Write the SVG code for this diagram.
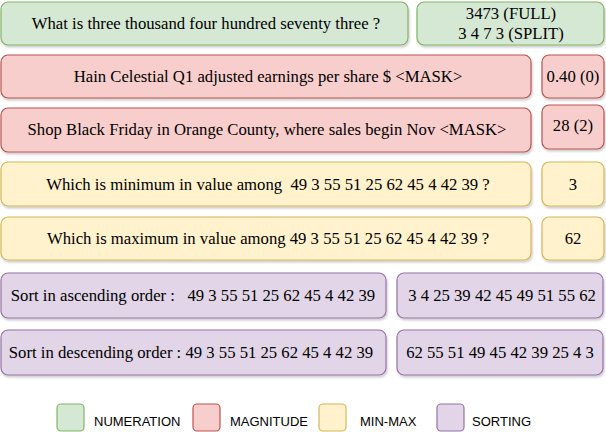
<svg xmlns="http://www.w3.org/2000/svg" width="606" height="432" viewBox="0 0 606 432">
<defs>
<filter id="sh" x="-5%" y="-10%" width="110%" height="130%">
<feDropShadow dx="1" dy="2" stdDeviation="1" flood-color="#000" flood-opacity="0.2"/>
</filter>
<style>
rect{stroke-width:1.2}
.g rect{fill:#d5e8d4;stroke:#82b366}
.r rect{fill:#f8cecc;stroke:#b85450}
.y rect{fill:#fff2cc;stroke:#d6b656}
.p rect{fill:#e1d5e7;stroke:#9673a6}
.n rect{filter:url(#sh)}
.t{font-family:"Liberation Serif","Times New Roman",serif;font-size:16.7px;fill:#000;text-anchor:middle;white-space:pre}
.l{font-family:"Liberation Sans",Arial,sans-serif;font-size:13px;fill:#000}
</style>
</defs>
<g id="q1" class="g n"><rect x="1" y="2" width="407" height="43" rx="7"/><text class="t" x="206" y="29">What is three thousand four hundred seventy three ?</text></g>
<g id="a1" class="g n"><rect x="417" y="2" width="187" height="43" rx="7"/><text class="t" x="511" y="19">3473 (FULL)</text><text class="t" x="511" y="39">3 4 7 3 (SPLIT)</text></g>
<g id="q2" class="r n"><rect x="1" y="55" width="530" height="43" rx="7"/><text class="t" x="268" y="82">Hain Celestial Q1 adjusted earnings per share $ &lt;MASK&gt;</text></g>
<g id="a2" class="r n"><rect x="542" y="55" width="62" height="43" rx="7"/><text class="t" x="573" y="82">0.40 (0)</text></g>
<g id="q3" class="r n"><rect x="1" y="108" width="530" height="44" rx="7"/><text class="t" x="267" y="135">Shop Black Friday in Orange County, where sales begin Nov &lt;MASK&gt;</text></g>
<g id="a3" class="r n"><rect x="542" y="105" width="62" height="44" rx="7"/><text class="t" x="573" y="131">28 (2)</text></g>
<g id="q4" class="y n"><rect x="1" y="162" width="530" height="44" rx="7"/><text class="t" x="268" y="190">Which is minimum in value among  49 3 55 51 25 62 45 4 42 39 ?</text></g>
<g id="a4" class="y n"><rect x="542" y="162" width="62" height="44" rx="7"/><text class="t" x="573" y="190">3</text></g>
<g id="q5" class="y n"><rect x="1" y="217" width="530" height="43" rx="7"/><text class="t" x="268" y="244">Which is maximum in value among 49 3 55 51 25 62 45 4 42 39 ?</text></g>
<g id="a5" class="y n"><rect x="542" y="217" width="62" height="43" rx="7"/><text class="t" x="573" y="244">62</text></g>
<g id="q6" class="p n"><rect x="1" y="273" width="385" height="45" rx="7"/><text class="t" x="193" y="301">Sort in ascending order :   49 3 55 51 25 62 45 4 42 39</text></g>
<g id="a6" class="p n"><rect x="397" y="273" width="206" height="45" rx="7"/><text class="t" x="502" y="301">3 4 25 39 42 45 49 51 55 62</text></g>
<g id="q7" class="p n"><rect x="1" y="330" width="385" height="45" rx="7"/><text class="t" x="191" y="358">Sort in descending order : 49 3 55 51 25 62 45 4 42 39</text></g>
<g id="a7" class="p n"><rect x="397" y="330" width="206" height="45" rx="7"/><text class="t" x="500" y="358">62 55 51 49 45 42 39 25 4 3</text></g>
<g id="connectors"></g>
<g id="legend">
<g id="lg-num" class="g"><rect x="57" y="404" width="27" height="27" rx="4"/><text class="l" x="94" y="426">NUMERATION</text></g>
<g id="lg-mag" class="r"><rect x="193" y="404" width="27" height="27" rx="4"/><text class="l" x="230" y="426">MAGNITUDE</text></g>
<g id="lg-min" class="y"><rect x="319" y="404" width="27" height="27" rx="4"/><text class="l" x="360" y="426">MIN-MAX</text></g>
<g id="lg-sort" class="p"><rect x="437" y="404" width="27" height="27" rx="4"/><text class="l" x="472" y="426">SORTING</text></g>
</g>
</svg>
